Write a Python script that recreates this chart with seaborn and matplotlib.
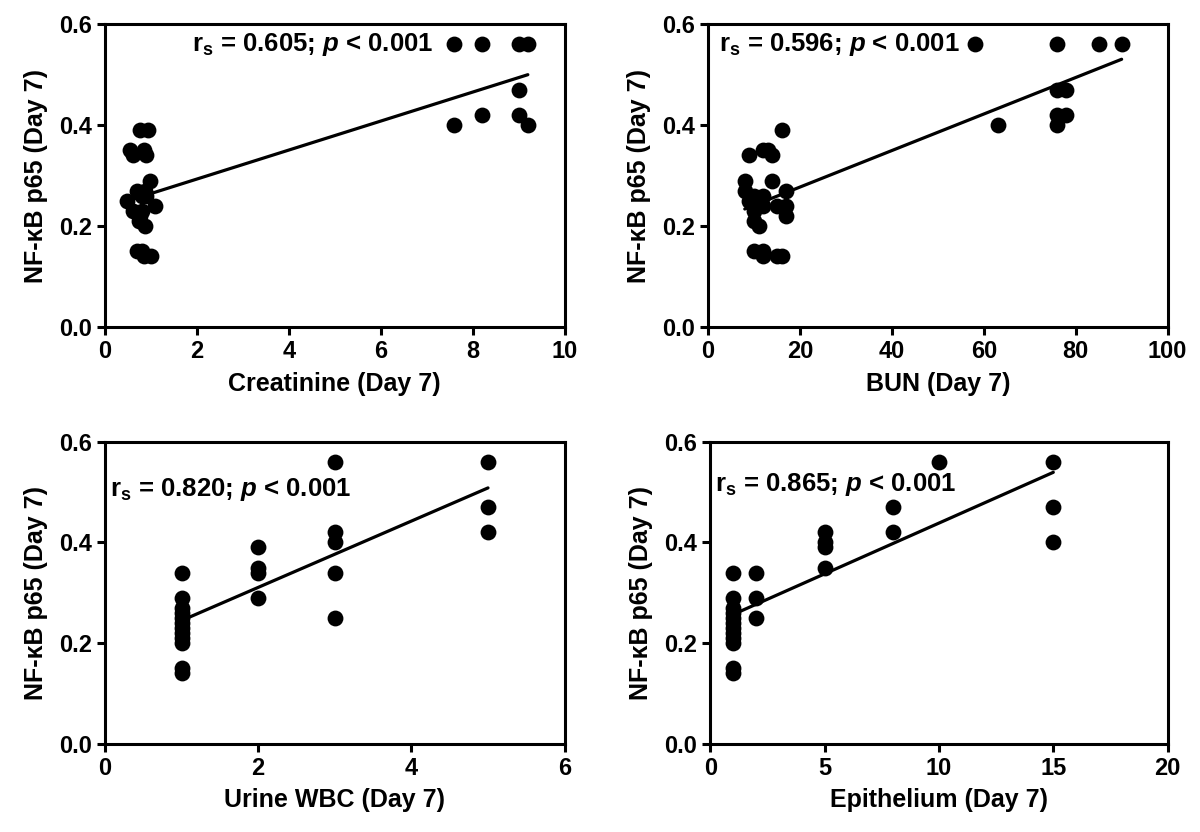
import matplotlib
matplotlib.use("Agg")
import matplotlib.pyplot as plt
import seaborn as sns

# Creatinine (Day 7) vs NF-kB p65
creat_x = [0.77, 0.93, 0.55, 0.6, 0.85, 0.9, 0.98, 0.7, 0.87, 0.8, 0.9, 0.47, 1.09,
           0.6, 0.8, 0.76, 0.75, 0.87, 0.7, 0.8, 0.85, 1.0,
           7.6, 8.2, 9.0, 9.2, 7.6, 8.2, 9.0, 9.0, 9.2]
creat_y = [0.39, 0.39, 0.35, 0.34, 0.35, 0.34, 0.29, 0.27, 0.27, 0.26, 0.26, 0.25, 0.24,
           0.23, 0.23, 0.22, 0.21, 0.20, 0.15, 0.15, 0.14, 0.14,
           0.56, 0.56, 0.56, 0.56, 0.40, 0.42, 0.47, 0.42, 0.40]

# BUN (Day 7)
bun_x = [16, 9, 12, 13, 14, 8, 14, 8, 17, 10, 12, 12, 15, 17, 9, 10, 17, 10, 11,
         10, 12, 12, 15, 16,
         58, 76, 85, 90, 76, 78, 76, 78, 76, 63]
bun_y = [0.39, 0.34, 0.35, 0.35, 0.34, 0.29, 0.29, 0.27, 0.27, 0.26, 0.26, 0.24, 0.24, 0.24,
         0.25, 0.23, 0.22, 0.21, 0.20, 0.15, 0.15, 0.14, 0.14, 0.14,
         0.56, 0.56, 0.56, 0.56, 0.47, 0.47, 0.42, 0.42, 0.40, 0.40]

# Urine WBC (Day 7)
wbc_x = [1, 1, 1, 1, 1, 1, 1, 1, 1, 1, 1, 1,
         2, 2, 2, 2,
         3, 3, 3, 3, 3,
         5, 5, 5]
wbc_y = [0.34, 0.29, 0.27, 0.26, 0.25, 0.24, 0.23, 0.22, 0.21, 0.20, 0.15, 0.14,
         0.39, 0.35, 0.34, 0.29,
         0.56, 0.42, 0.40, 0.34, 0.25,
         0.56, 0.47, 0.42]

# Epithelium (Day 7)
epi_x = [1, 1, 1, 1, 1, 1, 1, 1, 1, 1, 1, 1,
         2, 2, 2,
         5, 5, 5, 5,
         8, 8,
         10,
         15, 15, 15]
epi_y = [0.34, 0.29, 0.27, 0.26, 0.25, 0.24, 0.23, 0.22, 0.21, 0.20, 0.15, 0.14,
         0.34, 0.29, 0.25,
         0.42, 0.40, 0.39, 0.35,
         0.47, 0.42,
         0.56,
         0.56, 0.47, 0.40]

panels = [
    (creat_x, creat_y, "Creatinine (Day 7)", (0, 10), [0, 2, 4, 6, 8, 10], "0.605", (1.9, 0.56)),
    (bun_x, bun_y, "BUN (Day 7)", (0, 100), [0, 20, 40, 60, 80, 100], "0.596", (2.4, 0.56)),
    (wbc_x, wbc_y, "Urine WBC (Day 7)", (0, 6), [0, 2, 4, 6], "0.820", (0.06, 0.505)),
    (epi_x, epi_y, "Epithelium (Day 7)", (0, 20), [0, 5, 10, 15, 20], "0.865", (0.2, 0.515)),
]

sns.set_theme(style="ticks")
plt.rcParams["font.family"] = ["Liberation Sans", "DejaVu Sans"]
plt.rcParams["font.weight"] = "bold"
plt.rcParams["text.color"] = "black"
plt.rcParams["axes.labelcolor"] = "black"
plt.rcParams["xtick.color"] = "black"
plt.rcParams["ytick.color"] = "black"
plt.rcParams["mathtext.fontset"] = "custom"
plt.rcParams["mathtext.rm"] = "Liberation Sans:bold"
plt.rcParams["mathtext.bf"] = "Liberation Sans:bold"
plt.rcParams["mathtext.it"] = "Liberation Sans:bold:italic"

fig = plt.figure(figsize=(12, 8.32), dpi=100)
positions = [
    [0.0875, 0.607, 0.383, 0.364],
    [0.590, 0.607, 0.383, 0.364],
    [0.0875, 0.106, 0.383, 0.363],
    [0.592, 0.106, 0.381, 0.363],
]

for pos, (xs, ys, xlabel, xlim, xticks, rs, txt) in zip(positions, panels):
    ax = fig.add_axes(pos)
    sns.regplot(x=xs, y=ys, ax=ax, ci=None, truncate=True,
                scatter_kws=dict(s=130, color="black", alpha=1, linewidths=0),
                line_kws=dict(color="black", lw=2.3))
    ax.set_xlim(*xlim)
    ax.set_ylim(0, 0.6)
    ax.set_xticks(xticks)
    ax.set_yticks([0.0, 0.2, 0.4, 0.6])
    ax.set_yticklabels(["0.0", "0.2", "0.4", "0.6"])
    for sp in ax.spines.values():
        sp.set_linewidth(2.2)
        sp.set_color("black")
    ax.tick_params(width=2.2, length=6, labelsize=17, color="black", labelcolor="black")
    for lab in ax.get_xticklabels() + ax.get_yticklabels():
        lab.set_fontweight("bold")
    ax.set_xlabel(xlabel, fontsize=18, fontweight="bold", labelpad=6)
    ax.set_ylabel("NF-\u03baB p65 (Day 7)", fontsize=18, fontweight="bold", labelpad=8)
    ax.text(txt[0], txt[1], r"$\mathbf{r_s}$ = " + rs + r"; $p$ < 0.001",
            fontsize=18.5, fontweight="bold", va="center", ha="left")

fig.savefig("out.png", dpi=100)
